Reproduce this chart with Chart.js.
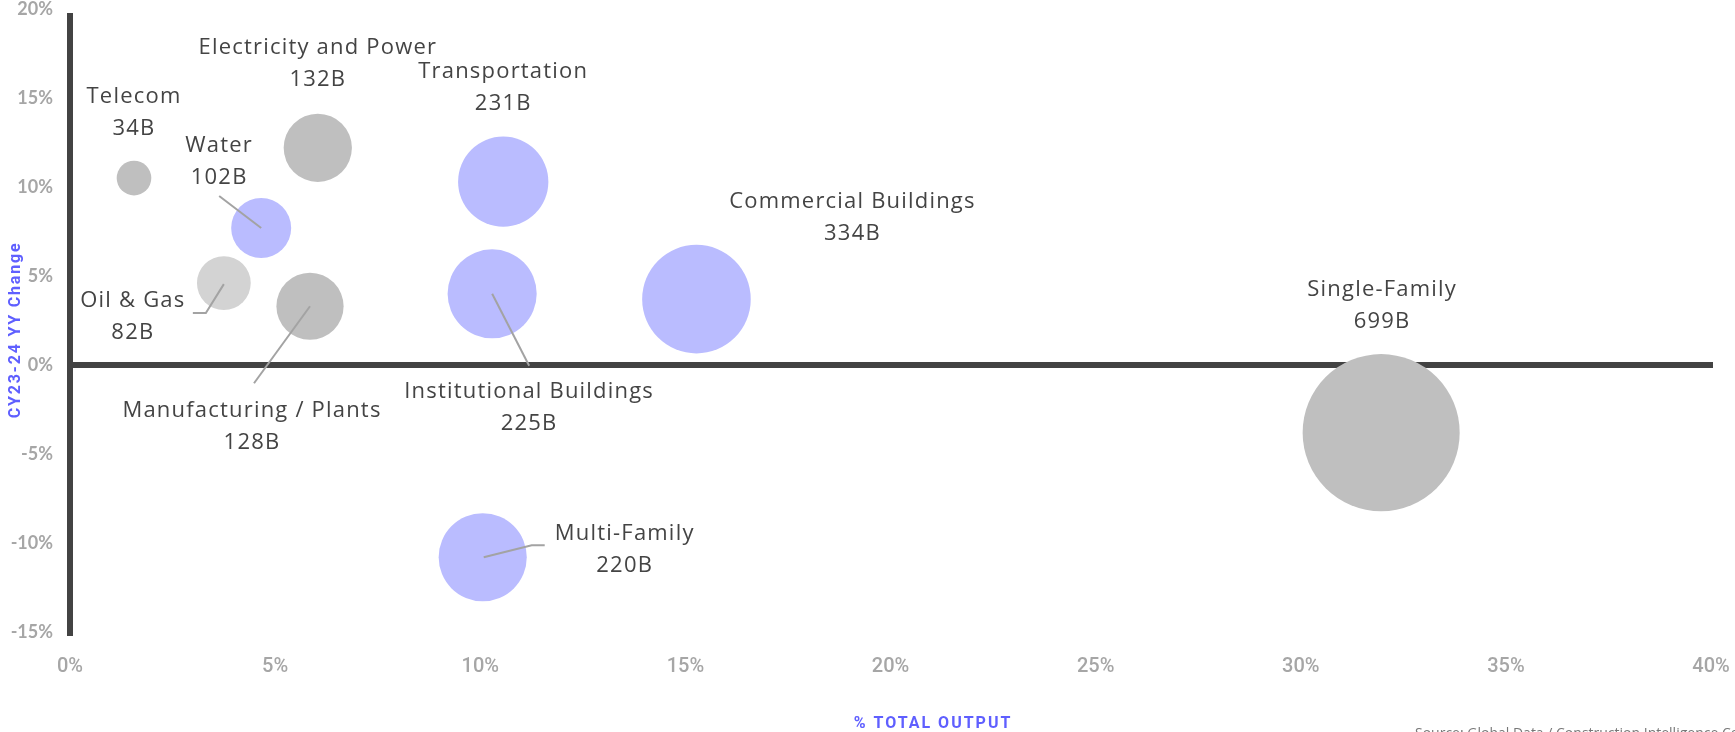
<!DOCTYPE html>
<html>
<head>
<meta charset="utf-8">
<script src="https://cdn.jsdelivr.net/npm/chart.js@4.4.1/dist/chart.umd.min.js"></script>
<style>
  html, body { margin: 0; background: #fff; }
  #wrap { width: 1735px; height: 732px; }
</style>
</head>
<body>
<div id="wrap"><canvas id="bubbles" width="1735" height="732"></canvas></div>
<script>
// Construction sectors: share of total output vs. CY23-24 change
const sectors = ["Telecom", "Electricity and Power", "Water", "Oil & Gas", "Manufacturing / Plants",
  "Transportation", "Institutional Buildings", "Commercial Buildings", "Multi-Family", "Single-Family"];
const outputB = [34, 132, 102, 82, 128, 231, 225, 334, 220, 699];          // $B
const shareOfTotal = [1.56, 6.04, 4.66, 3.75, 5.85, 10.56, 10.29, 15.27, 10.06, 31.96]; // % total output
const yyChange = [10.5, 12.2, 7.7, 4.6, 3.3, 10.3, 4.0, 3.7, -10.8, -3.8];  // % CY23-24
const xTicks = [0, 5, 10, 15, 20, 25, 30, 35, 40];
const yTicks = [-15, -10, -5, 0, 5, 10, 15, 20];

const GREY = "#bfbfbf", LAVENDER = "#babcff", LIGHT = "#d3d3d3";
const bubbleColors = [GREY, GREY, LAVENDER, LIGHT, GREY, LAVENDER, LAVENDER, LAVENDER, LAVENDER, GREY];

// where each label sits relative to its bubble (px), plus optional leader line
const labelLayout = [
  { dx: 0, dy: -81 },
  { dx: 0, dy: -100 },
  { dx: -42, dy: -82, lead: [[-42, -32], [0, 0]] },
  { dx: -91, dy: 18, lead: [[-31, 30], [-18, 30], [0, 1]] },
  { dx: -58, dy: 104, lead: [[-56, 77], [0, 0]] },
  { dx: 0, dy: -110 },
  { dx: 37, dy: 98, lead: [[37, 72], [0, 0]] },
  { dx: 156, dy: -97 },
  { dx: 142, dy: -24, lead: [[1, 0], [49, -12], [62, -12]] },
  { dx: 1, dy: -143 }
];

const points = sectors.map((s, i) => ({
  x: shareOfTotal[i],
  y: yyChange[i],
  r: 2.97 * Math.sqrt(outputB[i])
}));

const axisLines = {
  id: "axisLines",
  beforeDatasetsDraw(chart) {
    const { ctx, chartArea, scales } = chart;
    const x0 = Math.round(scales.x.getPixelForValue(0));
    const y0 = Math.round(scales.y.getPixelForValue(0));
    ctx.save();
    ctx.fillStyle = "#434343";
    ctx.fillRect(x0 - 3, Math.round(chartArea.top) + 4, 6, Math.round(chartArea.bottom - chartArea.top));
    ctx.fillRect(x0, y0 - 3, Math.round(scales.x.getPixelForValue(40)) + 2 - x0, 6);
    ctx.restore();
  }
};

const bubbleLabels = {
  id: "bubbleLabels",
  afterDatasetsDraw(chart) {
    const { ctx } = chart;
    const meta = chart.getDatasetMeta(0);
    ctx.save();
    meta.data.forEach((el, i) => {
      const lay = labelLayout[i];
      if (lay.lead) {
        ctx.strokeStyle = "#a3a3a3";
        ctx.lineWidth = 2;
        ctx.beginPath();
        lay.lead.forEach(([dx, dy], k) => {
          if (k === 0) ctx.moveTo(el.x + dx, el.y + dy);
          else ctx.lineTo(el.x + dx, el.y + dy);
        });
        ctx.stroke();
      }
      ctx.fillStyle = "#444";
      ctx.font = '400 22px "Open Sans"';
      ctx.letterSpacing = "1.2px";
      ctx.textAlign = "center";
      ctx.textBaseline = "middle";
      ctx.fillText(sectors[i], el.x + lay.dx, el.y + lay.dy);
      ctx.fillText(outputB[i] + "B", el.x + lay.dx, el.y + lay.dy + 32);
    });

    // axis titles
    ctx.fillStyle = "#5f5fff";
    ctx.font = 'bold 16px Roboto';
    ctx.letterSpacing = "1.8px";
    ctx.save();
    ctx.translate(16, 330);
    ctx.rotate(-Math.PI / 2);
    ctx.fillText("CY23-24 YY Change", 0, 0);
    ctx.restore();
    ctx.font = 'bold 16px Roboto';
    ctx.letterSpacing = "2px";
    ctx.fillText("% TOTAL OUTPUT", 933, 724);

    // source note, clipped at the bottom edge
    ctx.letterSpacing = "0px";
    ctx.fillStyle = "#777";
    ctx.font = '14px "Open Sans"';
    ctx.textAlign = "left";
    ctx.textBaseline = "top";
    ctx.fillText("Source: Global Data / Construction Intelligence Center", 1415, 727);
    ctx.restore();
  }
};

new Chart(document.getElementById("bubbles"), {
  type: "bubble",
  data: {
    datasets: [{
      label: "Sectors",
      data: points,
      backgroundColor: bubbleColors,
      borderWidth: 0,
      hoverBorderWidth: 0
    }]
  },
  options: {
    responsive: false,
    animation: false,
    layout: { autoPadding: false, padding: { top: 9, right: 24, left: 0, bottom: 0 } },
    plugins: { legend: { display: false }, tooltip: { enabled: false } },
    scales: {
      x: {
        type: "linear",
        min: 0,
        max: 40,
        afterBuildTicks: s => { s.ticks = xTicks.map(v => ({ value: v })); },
        afterFit: s => { s.height = 100; },
        grid: { display: false, drawTicks: true, tickLength: 25 },
        border: { display: false },
        ticks: {
          padding: 0,
          color: "#a6a6a6",
          font: { family: "Roboto", size: 20, weight: "500", lineHeight: 1 },
          callback: v => v + "%"
        }
      },
      y: {
        type: "linear",
        min: -15,
        max: 20,
        afterBuildTicks: s => { s.ticks = yTicks.map(v => ({ value: v })); },
        afterFit: s => { s.width = 70; },
        grid: { display: false, drawTicks: true, tickLength: 17 },
        border: { display: false },
        ticks: {
          padding: 0,
          color: "#a6a6a6",
          font: { family: "Lato", size: 18, weight: "bold", lineHeight: 1 },
          callback: v => v + "%"
        }
      }
    }
  },
  plugins: [axisLines, bubbleLabels]
});
</script>
</body>
</html>
